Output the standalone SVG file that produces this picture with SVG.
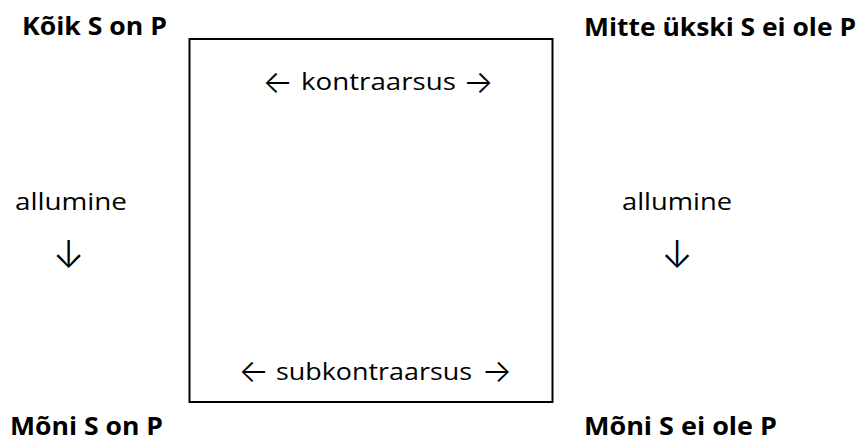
<svg xmlns="http://www.w3.org/2000/svg" width="862" height="441" viewBox="0 0 862 441">
<style>
text{font-family:"Open Sans","Noto Sans","DejaVu Sans",sans-serif;fill:#000}
.b{font-weight:bold;font-size:25px}
.r{font-size:24px}
.a{font-family:Inter,"DejaVu Sans",sans-serif;font-size:32px;font-weight:300}
.arr{font-family:Inter,"DejaVu Sans",sans-serif;font-size:38px;font-weight:300;text-anchor:middle}
</style>
<rect width="862" height="441" fill="#fff"/>
<g id="square">
<rect x="189.5" y="39" width="363" height="363" fill="none" stroke="#000" stroke-width="2"/>
</g>
<g id="node-a"><text class="b" x="22" y="35" textLength="145" lengthAdjust="spacingAndGlyphs">Kõik S on P</text></g>
<g id="node-e"><text class="b" x="584" y="36" textLength="272" lengthAdjust="spacingAndGlyphs">Mitte ükski S ei ole P</text></g>
<g id="node-i"><text class="b" x="10" y="435" textLength="153" lengthAdjust="spacingAndGlyphs">Mõni S on P</text></g>
<g id="node-o"><text class="b" x="584" y="435" textLength="193" lengthAdjust="spacingAndGlyphs">Mõni S ei ole P</text></g>
<g id="connectors">
<text class="a" x="262.5" y="93">←</text>
<text class="r" x="301" y="90" textLength="155" lengthAdjust="spacingAndGlyphs">kontraarsus</text>
<text class="a" x="463" y="93">→</text>
<text class="a" x="238.5" y="382">←</text>
<text class="r" x="276" y="380" textLength="196" lengthAdjust="spacingAndGlyphs">subkontraarsus</text>
<text class="a" x="481.5" y="382">→</text>
<text class="r" x="15" y="210" textLength="112" lengthAdjust="spacingAndGlyphs">allumine</text>
<text class="r" x="622" y="210" textLength="110" lengthAdjust="spacingAndGlyphs">allumine</text>
<text class="arr" x="68.5" y="268">↓</text>
<text class="arr" x="677" y="268">↓</text>
</g>
</svg>
